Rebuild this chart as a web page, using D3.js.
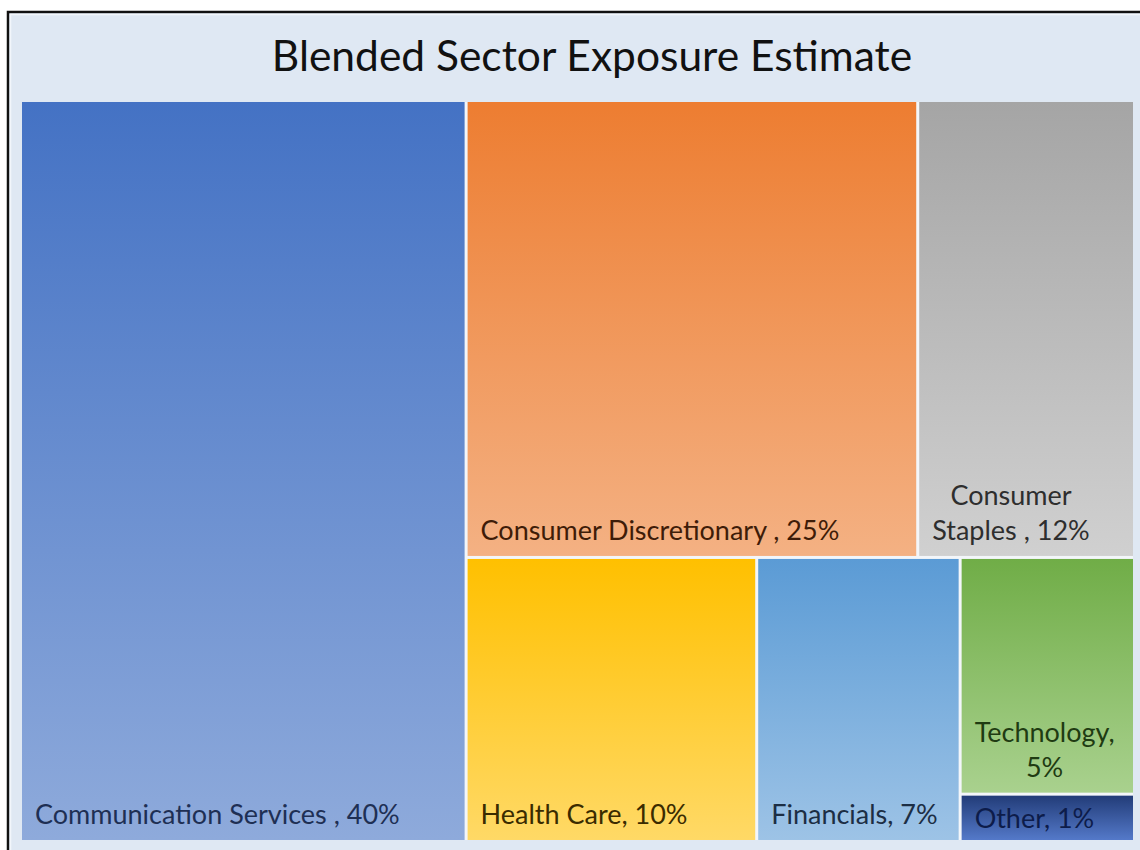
<!DOCTYPE html>
<html>
<head>
<meta charset="utf-8">
<script src="https://cdn.jsdelivr.net/npm/d3@7"></script>
<style>
  html, body { margin: 0; padding: 0; background: #ffffff; }
  svg { display: block; }
</style>
</head>
<body>
<svg id="chart" width="1140" height="850"></svg>
<script>
// ---- data ----
const categories = ["Communication Services ", "Consumer Discretionary ", "Consumer Staples ", "Health Care", "Financials", "Technology", "Other"];
const values = [40, 25, 12, 10, 7, 5, 1];
const topColors = ["#4472c4", "#ed7d31", "#a5a5a5", "#ffc000", "#5b9bd5", "#70ad47", "#223c78"];
const bottomColors = ["#8eaadb", "#f4b183", "#d0d0d0", "#ffd966", "#9dc3e6", "#a9d18e", "#5479c9"];
const labelColors = ["#1e2f54", "#3e1c08", "#2e2e2e", "#3a2b00", "#1c2e44", "#1f3b12", "#0d1c4a"];
const title = "Blended Sector Exposure Estimate";

// ---- layout ----
const svg = d3.select("#chart");
const W = 1140, H = 850;
const plot = { x0: 22, y0: 102, x1: 1133, y1: 840 };

// outer chart frame
svg.append("rect").attr("x", 0).attr("y", 0).attr("width", W).attr("height", H).attr("fill", "#ffffff");
svg.append("rect").attr("x", 8).attr("y", 12).attr("width", W).attr("height", H)
  .attr("fill", "#dfe8f3").attr("stroke", "#111").attr("stroke-width", 2.5);
svg.append("rect").attr("x", 10.5).attr("y", 14.5).attr("width", W).attr("height", H)
  .attr("fill", "none").attr("stroke", "#f2f6fb").attr("stroke-width", 1.5);

// title
svg.append("text")
  .attr("x", 592).attr("y", 71)
  .attr("text-anchor", "middle")
  .attr("font-family", "Lato, 'Open Sans', sans-serif")
  .attr("font-size", 42.5)
  .attr("fill", "#111")
  .text(title);

const rows = categories.map((c, i) => ({ name: c, value: values[i], i }));
const root = d3.hierarchy({ children: rows }).sum(d => d.value || 0);

d3.treemap()
  .tile(d3.treemapSquarify.ratio(1))
  .size([plot.x1 - plot.x0, plot.y1 - plot.y0])
  .paddingInner(3)
  .round(false)(root);

const defs = svg.append("defs");
rows.forEach((r, i) => {
  const g = defs.append("linearGradient").attr("id", "grad" + i)
    .attr("x1", 0).attr("y1", 0).attr("x2", 0).attr("y2", 1);
  g.append("stop").attr("offset", "0%").attr("stop-color", topColors[i]);
  g.append("stop").attr("offset", "100%").attr("stop-color", bottomColors[i]);
});

// light backing so the gaps appear white-ish
svg.append("rect").attr("x", plot.x0).attr("y", plot.y0)
  .attr("width", plot.x1 - plot.x0).attr("height", plot.y1 - plot.y0)
  .attr("fill", "#f3f6fa");

const gPlot = svg.append("g").attr("transform", `translate(${plot.x0},${plot.y0})`);

const leaves = gPlot.selectAll("g.leaf").data(root.leaves()).join("g").attr("class", "leaf");

leaves.append("rect")
  .attr("x", d => d.x0).attr("y", d => d.y0)
  .attr("width", d => d.x1 - d.x0).attr("height", d => d.y1 - d.y0)
  .attr("fill", d => `url(#grad${d.data.i})`);

const fontSize = 27, lineH = 35, padX = 13;
leaves.each(function (d) {
  const g = d3.select(this);
  const label = d.data.name + ", " + d.data.value + "%";
  const t = g.append("text")
    .attr("font-family", "Lato, 'Open Sans', sans-serif")
    .attr("font-size", fontSize)
    .attr("fill", labelColors[d.data.i]);
  t.text(label);
  const full = t.node().getComputedTextLength();
  const avail = (d.x1 - d.x0) - 2 * padX + 4;
  let lines = [label];
  if (full > avail) {
    const words = label.split(" ");
    lines = [words[0], words.slice(1).join(" ")];
  }
  t.text(null);
  const widths = lines.map(l => { t.text(l); const w = t.node().getComputedTextLength(); t.text(null); return w; });
  const blockW = d3.max(widths);
  const cx = d.x0 + padX + blockW / 2;
  const lastBase = d.y1 - (d.data.value === 1 ? 12 : 16);
  lines.forEach((l, k) => {
    t.append("tspan")
      .attr("x", lines.length > 1 ? cx : d.x0 + padX)
      .attr("text-anchor", lines.length > 1 ? "middle" : "start")
      .attr("y", lastBase - (lines.length - 1 - k) * lineH)
      .text(l);
  });
});
</script>
</body>
</html>
